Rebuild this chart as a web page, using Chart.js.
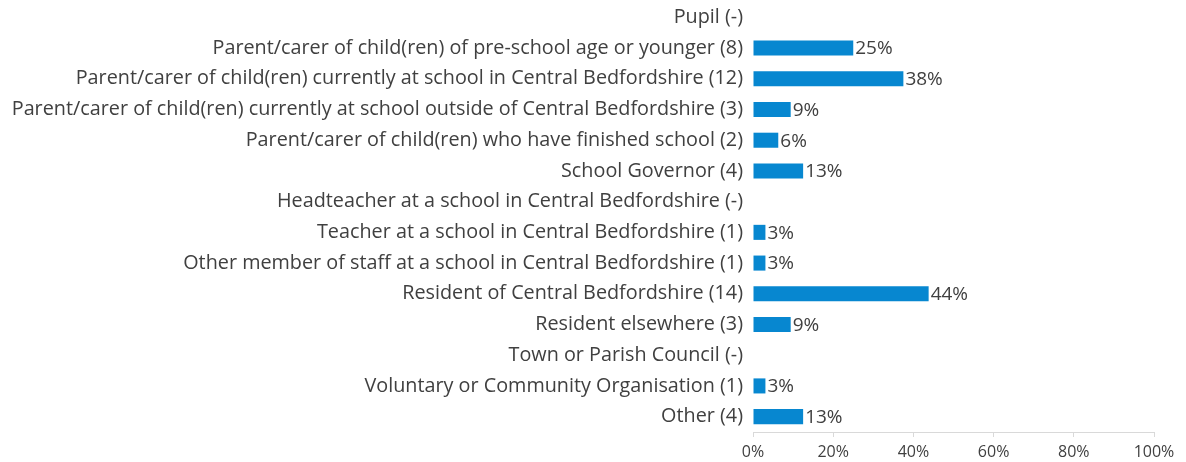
<!DOCTYPE html>
<html>
<head>
<meta charset="utf-8">
<script src="https://cdn.jsdelivr.net/npm/chart.js@4"></script>
<style>
  html, body { margin: 0; padding: 0; background: #fff; }
  #wrap { width: 1186px; height: 462px; position: relative; }
</style>
</head>
<body>
<div id="wrap"><canvas id="chart"></canvas></div>
<script>
// Categories (respondent type, with count)
const categories = [
  'Pupil (-)',
  'Parent/carer of child(ren) of pre-school age or younger (8)',
  'Parent/carer of child(ren) currently at school in Central Bedfordshire (12)',
  'Parent/carer of child(ren) currently at school outside of Central Bedfordshire (3)',
  'Parent/carer of child(ren) who have finished school (2)',
  'School Governor (4)',
  'Headteacher at a school in Central Bedfordshire (-)',
  'Teacher at a school in Central Bedfordshire (1)',
  'Other member of staff at a school in Central Bedfordshire (1)',
  'Resident of Central Bedfordshire (14)',
  'Resident elsewhere (3)',
  'Town or Parish Council (-)',
  'Voluntary or Community Organisation (1)',
  'Other (4)'
];

// Share of respondents, percent
const percentages = [null, 25, 37.5, 9.4, 6.3, 12.5, null, 3.1, 3.1, 43.8, 9.4, null, 3.1, 12.5];

// X axis ticks
const xTicks = [0, 20, 40, 60, 80, 100];

const textColor = '#404040';
const fontFamily = '"Open Sans", sans-serif';

// draw the value labels just past the end of each bar
const valueLabels = {
  id: 'valueLabels',
  afterDatasetsDraw(chart) {
    const ctx = chart.ctx;
    const meta = chart.getDatasetMeta(0);
    ctx.save();
    ctx.font = '19px ' + fontFamily;
    ctx.fillStyle = textColor;
    ctx.textAlign = 'left';
    ctx.textBaseline = 'middle';
    meta.data.forEach((bar, i) => {
      const v = percentages[i];
      if (v === null) return;
      ctx.fillText(Math.round(v) + '%', bar.x + 2, bar.y + 1);
    });
    ctx.restore();
  }
};

new Chart(document.getElementById('chart'), {
  type: 'bar',
  data: {
    labels: categories,
    datasets: [{
      data: percentages,
      backgroundColor: '#0787D0',
      barPercentage: 0.98,
      categoryPercentage: 0.5
    }]
  },
  options: {
    indexAxis: 'y',
    responsive: true,
    maintainAspectRatio: false,
    animation: false,
    layout: { padding: { top: 2, right: 32, left: 0, bottom: 0 } },
    plugins: {
      legend: { display: false },
      tooltip: { enabled: false }
    },
    scales: {
      x: {
        min: 0,
        max: 100,
        afterBuildTicks(axis) {
          axis.ticks = xTicks.map(v => ({ value: v }));
        },
        afterFit(axis) {
          axis.height = 30;
          axis.paddingLeft = 0;
          axis.paddingRight = 0;
        },
        grid: {
          display: true,
          drawOnChartArea: false,
          drawTicks: true,
          tickLength: 5,
          color: '#d9d9d9'
        },
        border: { display: true, color: '#d9d9d9', width: 1 },
        ticks: {
          color: textColor,
          padding: 6,
          font: { family: fontFamily, size: 16 },
          callback: v => v + '%'
        }
      },
      y: {
        afterFit(axis) {
          axis.width = 753;
          axis.paddingTop = 0;
          axis.paddingBottom = 0;
        },
        grid: { display: false, drawTicks: false },
        border: { display: false },
        ticks: {
          color: textColor,
          padding: 10,
          font: { family: fontFamily, size: 19.8 }
        }
      }
    }
  },
  plugins: [valueLabels]
});
</script>
</body>
</html>
